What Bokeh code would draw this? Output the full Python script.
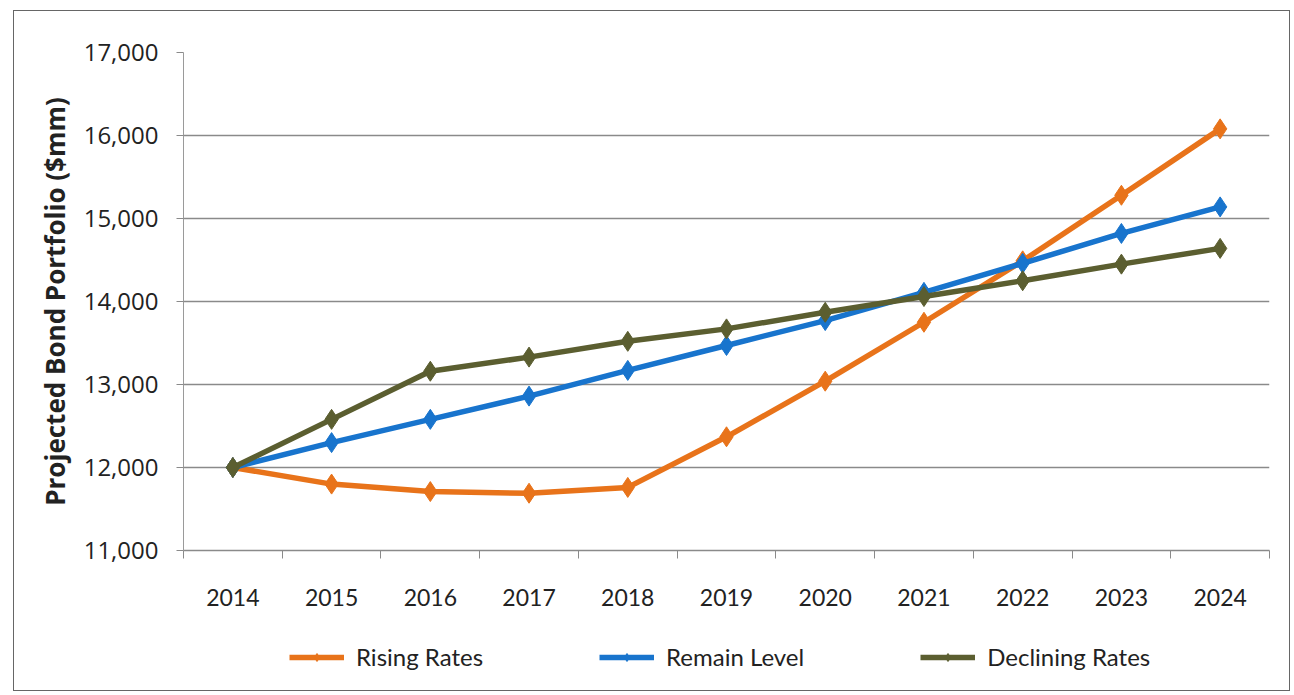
from bokeh.plotting import figure
from bokeh.layouts import column
from bokeh.models import FixedTicker, Range1d, Legend, LegendItem, NumeralTickFormatter
from bokeh.embed import file_html
from bokeh.resources import INLINE

years = ["2014", "2015", "2016", "2017", "2018", "2019", "2020", "2021", "2022", "2023", "2024"]
rising = [12000, 11800, 11710, 11690, 11760, 12370, 13040, 13750, 14490, 15280, 16080]
remain = [12000, 12300, 12580, 12860, 13170, 13470, 13770, 14110, 14460, 14820, 15140]
declining = [12000, 12580, 13160, 13330, 13520, 13670, 13870, 14060, 14250, 14450, 14640]
y_ticks = [11000, 12000, 13000, 14000, 15000, 16000, 17000]

series = [
    ("Rising Rates", rising, "#E8731A"),
    ("Remain Level", remain, "#1874CD"),
    ("Declining Rates", declining, "#5B5E30"),
]

xpos = [i + 0.5 for i in range(len(years))]

W = 1275
p = figure(width=W, height=614, x_range=Range1d(0, len(years)), y_range=Range1d(11000, 17000),
           output_backend="svg", toolbar_location=None,
           min_border_left=169, min_border_right=20, min_border_top=41, min_border_bottom=75)
p.outline_line_color = None
p.background_fill_color = "white"

p.xgrid.grid_line_color = None
p.ygrid.grid_line_color = "#8a8a8a"
p.ygrid.grid_line_width = 1.5
p.yaxis.ticker = FixedTicker(ticks=y_ticks)
p.yaxis.formatter = NumeralTickFormatter(format="0,0")
p.yaxis.axis_line_color = "#9a9a9a"
p.yaxis.major_tick_line_color = "#8a8a8a"
p.yaxis.major_tick_out = 7
p.yaxis.major_tick_in = 0
p.yaxis.minor_tick_line_color = None
p.yaxis.major_label_text_font = "Open Sans"
p.yaxis.major_label_text_font_size = "24px"
p.yaxis.major_label_text_color = "#222222"
p.yaxis.major_label_standoff = 18
p.yaxis.axis_label = "Projected Bond Portfolio ($mm)"
p.yaxis.axis_label_text_font = "Open Sans"
p.yaxis.axis_label_text_font_style = "bold"
p.yaxis.axis_label_text_font_size = "26px"
p.yaxis.axis_label_text_color = "#222222"
p.yaxis.axis_label_standoff = 8

p.xaxis.ticker = FixedTicker(ticks=xpos, minor_ticks=list(range(len(years) + 1)))
p.xaxis.major_label_overrides = {x: y for x, y in zip(xpos, years)}
p.xaxis.major_tick_line_color = None
p.xaxis.minor_tick_line_color = "#8a8a8a"
p.xaxis.minor_tick_out = 8
p.xaxis.minor_tick_in = 0
p.xaxis.axis_line_color = "#8a8a8a"
p.xaxis.axis_line_width = 1.5
p.xaxis.major_label_text_font = "Lato"
p.xaxis.major_label_text_font_size = "23px"
p.xaxis.major_label_text_color = "#222222"
p.xaxis.major_label_standoff = 30

for name, vals, col in series:
    p.line(xpos, vals, line_color=col, line_width=5.5)
    p.scatter(xpos, vals, marker="diamond", size=20, fill_color=col, line_color=col)

# legend strip below the chart
p2 = figure(width=W, height=65, x_range=Range1d(100, 101), y_range=Range1d(0, 1),
            output_backend="svg", toolbar_location=None,
            min_border_left=0, min_border_right=0, min_border_top=0, min_border_bottom=0)
p2.axis.visible = False
p2.grid.grid_line_color = None
p2.outline_line_color = None
items = []
for name, vals, col in series:
    l = p2.line(xpos, vals, line_color=col, line_width=5.5)
    s = p2.scatter(xpos, vals, marker="diamond", size=18, fill_color=col, line_color=col)
    items.append(LegendItem(label=name, renderers=[l, s]))

legend = Legend(items=items, orientation="horizontal", location=(106, 19),
                label_text_font="Lato", label_text_font_size="24px",
                label_text_color="#222222", glyph_width=55, glyph_height=20,
                label_standoff=12, spacing=116, border_line_color=None,
                background_fill_alpha=0, margin=0, padding=4)
p2.add_layout(legend, "center")

layout = column(p, p2, spacing=0,
                styles={"border": "1.5px solid #666", "margin-left": "13px", "margin-top": "10px"})

open("out.html", "w").write(file_html(layout, INLINE))
